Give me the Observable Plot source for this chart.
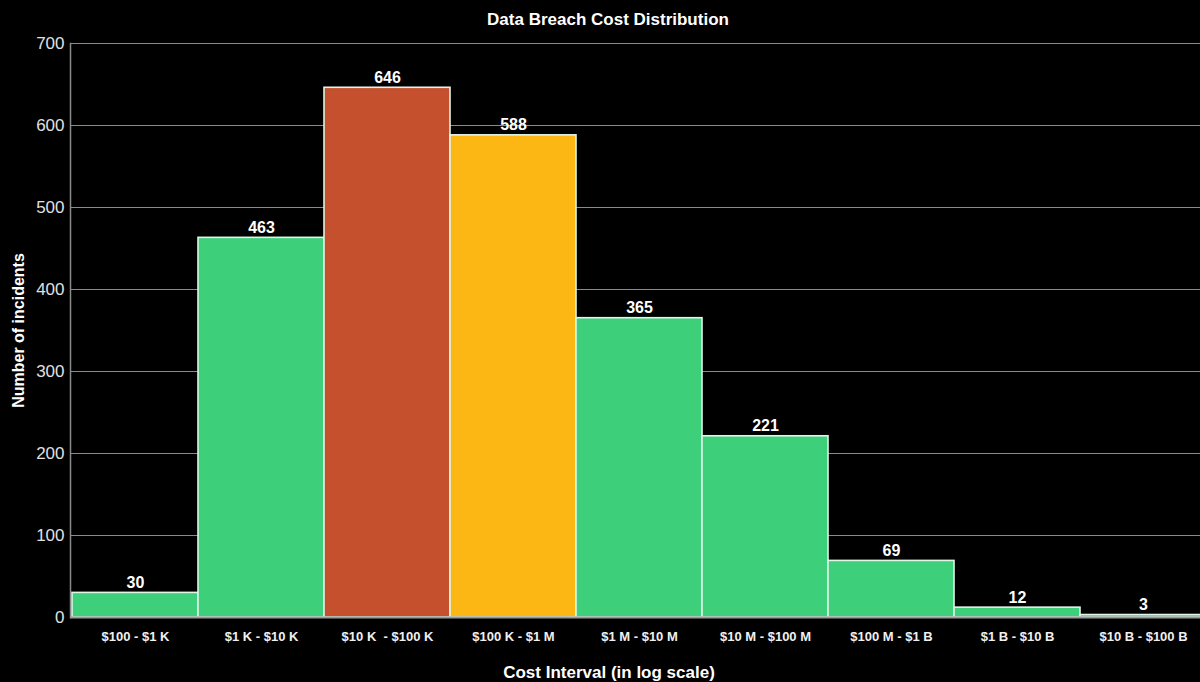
<!DOCTYPE html>
<html>
<head>
<meta charset="utf-8">
<script src="https://cdn.jsdelivr.net/npm/d3@7"></script>
<script src="https://cdn.jsdelivr.net/npm/@observablehq/plot@0.6"></script>
<style>
  html, body { margin: 0; padding: 0; background: #000; overflow: hidden; }
  #wrap { width: 1216px; height: 682px; position: relative; background: #000; }
  #title { position: absolute; top: 0; left: 0; width: 1216px; height: 40px; line-height: 40px;
    text-align: center; color: #fff; font-family: "Liberation Sans", Arial, sans-serif;
    font-weight: bold; font-size: 17px; }
  #chart { position: absolute; top: 0; left: 0; }
</style>
</head>
<body>
<div id="wrap">
  <div id="chart"></div>
  <div id="title">Data Breach Cost Distribution</div>
</div>
<script>
const categories = ["$100 - $1 K", "$1 K - $10 K", "$10 K  - $100 K", "$100 K - $1 M", "$1 M - $10 M", "$10 M - $100 M", "$100 M - $1 B", "$1 B - $10 B", "$10 B - $100 B"];
const incidents = [30, 463, 646, 588, 365, 221, 69, 12, 3];
const groups = ["normal", "normal", "peak", "second", "normal", "normal", "normal", "normal", "normal"];
const yTicks = [0, 100, 200, 300, 400, 500, 600, 700];

const data = categories.map((c, i) => ({category: c, value: incidents[i], group: groups[i]}));

const font = '"Liberation Sans", Arial, sans-serif';

const chart = Plot.plot({
  width: 1207,
  height: 682,
  marginTop: 43,
  marginBottom: 65,
  marginLeft: 70,
  marginRight: 0,
  style: {background: "#000", color: "#e6e6e6", fontFamily: font, overflow: "visible"},
  x: {domain: categories, padding: 0, label: null},
  y: {domain: [0, 700], ticks: yTicks, label: null},
  color: {domain: ["normal", "peak", "second"], range: ["#3ecf7a", "#c4502d", "#fdb714"]},
  marks: [
    Plot.gridY(yTicks, {stroke: "#8a8a8a", strokeOpacity: 1, strokeWidth: 1}),
    Plot.frame({anchor: "left", stroke: "#8a8a8a", strokeWidth: 1.5}),
    Plot.barY(data, {x: "category", y: "value", fill: "group", stroke: "#dff5e8", strokeWidth: 1.6}),
    Plot.ruleY([0], {stroke: "#9a9a9a", strokeWidth: 2}),
    Plot.text(data, {x: "category", y: "value", text: d => String(d.value), dy: -10, fill: "#fff", fontWeight: "bold", fontSize: 16, fontFamily: font}),
    Plot.axisY({ticks: yTicks, tickSize: 0, tickPadding: 6, fontSize: 17, fill: "#e0e0e0", label: null}),
    Plot.text(["Number of incidents"], {frameAnchor: "left", textAnchor: "middle", dx: -52, rotate: -90, fill: "#fff", fontWeight: "bold", fontSize: 16, fontFamily: font}),
    Plot.axisX({tickSize: 0, tickPadding: 14, fontSize: 13, fontWeight: "bold", fill: "#f0f0f0", label: null}),
    Plot.text(["Cost Interval (in log scale)"], {frameAnchor: "bottom", dy: 60, dx: -30, fill: "#fff", fontWeight: "bold", fontSize: 17, fontFamily: font})
  ]
});
document.getElementById("chart").appendChild(chart);
</script>
</body>
</html>
